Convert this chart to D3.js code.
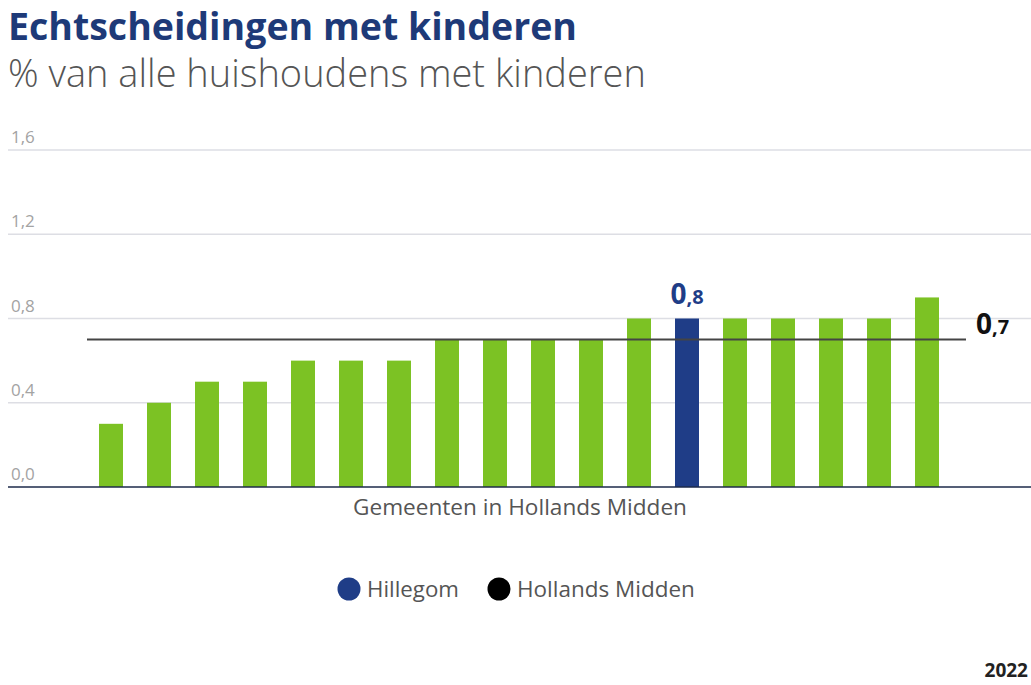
<!DOCTYPE html>
<html><head><meta charset="utf-8">
<script src="https://cdn.jsdelivr.net/npm/d3@7"></script>
<style>body{margin:0;background:#fff}svg{display:block}</style>
</head><body><svg id="c" width="1031" height="685"></svg>
<script>
const categories = ["G1","G2","G3","G4","G5","G6","G7","G8","G9","G10","G11","G12","Hillegom","G14","G15","G16","G17","G18"];
const values = [0.3,0.4,0.5,0.5,0.6,0.6,0.6,0.7,0.7,0.7,0.7,0.8,0.8,0.8,0.8,0.8,0.8,0.9];
const highlight = "Hillegom";
const regionValue = 0.7;
const yTicks = [0,0.4,0.8,1.2,1.6];
const title = "Echtscheidingen met kinderen";
const subtitle = "% van alle huishoudens met kinderen";
const xTitle = "Gemeenten in Hollands Midden";
const legendItems = [{name:"Hillegom",color:"#1f3d87"},{name:"Hollands Midden",color:"#000"}];
const year = "2022";

const svg = d3.select("#c");
const font = "'Open Sans', sans-serif";
const green = "#7cc224", blue = "#1f3d87";

function fitText(sel, w){
  const l = sel.node().getComputedTextLength();
  const fs = parseFloat(sel.attr("font-size"));
  sel.attr("font-size", fs*w/l);
}

const t = svg.append("text").attr("x",8).attr("y",40).attr("font-family",font).attr("font-weight",700)
  .attr("font-size",32).attr("fill","#1e3a78").text(title);
fitText(t,569);
const st = svg.append("text").attr("x",8).attr("y",87).attr("font-family",font).attr("font-weight",300)
  .attr("font-size",30).attr("fill","#555").text(subtitle);
fitText(st,638);

const x = d3.scaleBand().domain(categories).range([87,951]).paddingInner(0.5).paddingOuter(0.25);
const y = d3.scaleLinear().domain([0,1.6]).range([487,150]);

// grid
const g = svg.append("g");
g.selectAll("line.grid").data(yTicks.filter(d=>d>0)).join("line")
  .attr("x1",8).attr("x2",1031).attr("y1",d=>y(d)).attr("y2",d=>y(d))
  .attr("stroke","#dddee4").attr("stroke-width",1.5);
g.selectAll("text.tick").data(yTicks).join("text")
  .attr("x",11).attr("y",d=>y(d)-7).attr("font-family",font).attr("font-weight",400).attr("font-size",17)
  .attr("fill","#a3a3a3").text(d=>d3.format(".1f")(d).replace(".",","));

// bars
svg.append("g").selectAll("rect").data(values).join("rect")
  .attr("x",(d,i)=>x(categories[i])).attr("width",x.bandwidth())
  .attr("y",d=>y(d)).attr("height",d=>y(0)-y(d))
  .attr("fill",(d,i)=>categories[i]===highlight?blue:green);

// baseline
svg.append("line").attr("x1",8).attr("x2",1031).attr("y1",y(0)).attr("y2",y(0))
  .attr("stroke","#1c2a4a").attr("stroke-width",1.5);

// region line
svg.append("line").attr("x1",87).attr("x2",966).attr("y1",y(regionValue)).attr("y2",y(regionValue))
  .attr("stroke","#444").attr("stroke-width",2);

function splitLabel(sel, v){
  const s = d3.format(".1f")(v).split(".");
  sel.append("tspan").attr("font-size",28).text(s[0]);
  sel.append("tspan").attr("font-size",20).text(","+s[1]);
}
const hi = values[categories.indexOf(highlight)];
const hl = svg.append("text").attr("x",x(highlight)+x.bandwidth()/2).attr("y",y(hi)-15)
  .attr("text-anchor","middle").attr("font-family",font).attr("font-weight",700).attr("fill",blue);
splitLabel(hl,hi);
const rl = svg.append("text").attr("x",976).attr("y",y(regionValue)-6)
  .attr("font-family",font).attr("font-weight",700).attr("fill","#111");
splitLabel(rl,regionValue);

// x title
const xt = svg.append("text").attr("x",520).attr("y",515).attr("text-anchor","middle")
  .attr("font-family",font).attr("font-size",17).attr("fill","#555").text(xTitle);
fitText(xt,334);

// legend
const lg = svg.append("g").attr("font-family",font).attr("fill","#555");
const lx = [349,499];
const lw = [92,178];
legendItems.forEach((it,i)=>{
  lg.append("circle").attr("cx",lx[i]).attr("cy",589).attr("r",11.5).attr("fill",it.color);
  const tt = lg.append("text").attr("x",lx[i]+18).attr("y",597).attr("font-size",22).attr("fill","#555").text(it.name);
  fitText(tt,lw[i]);
});

svg.append("text").attr("x",1028).attr("y",677).attr("text-anchor","end").attr("font-family",font)
  .attr("font-weight",700).attr("font-size",19).attr("fill","#222").text(year);
</script></body></html>
